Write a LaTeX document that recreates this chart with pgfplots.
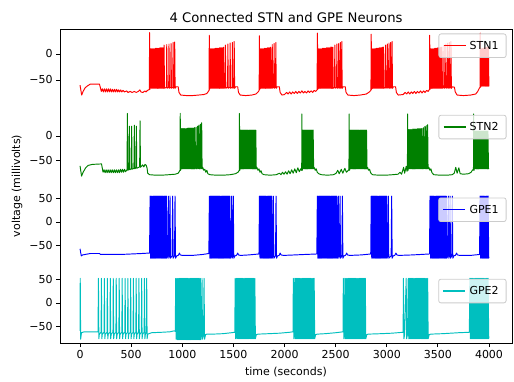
\documentclass[border=0pt]{standalone}
\usepackage{fontspec}
\setmainfont{DejaVu Sans}
\usepackage{pgfplots}
\pgfplotsset{compat=1.18}
\definecolor{mr}{HTML}{FF0000}
\definecolor{mg}{HTML}{008000}
\definecolor{mb}{HTML}{0000FF}
\definecolor{mc}{HTML}{00BFBF}
\pgfplotsset{
  panel/.style={
    scale only axis, width=452pt, xmin=-196, xmax=4225,
    axis line style={draw=none},
    tick align=outside, ytick pos=left, xtick pos=bottom,
    major tick length=3.9pt,
    tick style={draw=black, line width=0.9pt},
    tick label style={font=\fontsize{11}{13}\selectfont},
    xtick=\empty,
    legend cell align=left,
    legend style={at={(1,1)}, anchor=north east, xshift=-5.5pt, yshift=-4.5pt,
      draw=black!20, line width=0.8pt, fill=white, fill opacity=0.8, text opacity=1, draw opacity=1,
      rounded corners=2.2pt, inner xsep=4pt, inner ysep=4pt,
      nodes={inner xsep=3.5pt, inner ysep=3pt},
      font=\fontsize{11}{13}\selectfont},
    legend image code/.code={\draw[##1, line width=1.3pt, draw opacity=1] (0pt,0pt) -- (22pt,0pt);},
    every axis plot/.append style={line width=0.95pt, line join=round},
  }
}
\begin{document}
\begin{tikzpicture}
\path[use as bounding box] (0pt,0pt) rectangle (514pt,381pt);

% ---------------- STN1 ----------------
\begin{axis}[panel, at={(60pt,282.3pt)}, anchor=south west, height=69.7pt,
  ymin=-86, ymax=48, ytick={-50,0}, yticklabels={−50,0}]
\addplot[mr] coordinates {
(0,-60)(16,-79)(30,-72)(50,-65)(75,-61)(100,-58)(190,-58)(198,-64)(208,-72)(218,-67)(228,-73)(238,-67)(248,-73)(258,-67)(268,-73)(278,-67)(288,-73)(298,-67)(308,-73)(318,-68)(328,-73)(338,-68)(348,-73)(358,-68)(368,-73)(378,-69)(388,-73)(398,-69)(408,-73)(420,-70)(435,-73)(455,-71)(470,-74)(490,-72)(510,-74)(530,-72)(550,-74)(570,-72)(585,-69)(595,-73)(615,-74)(635,-71)(645,-73)(660,-70)(672,-69)(678,-68)
(680,41)(684,-68)(690,10)(695,-66)(700,10)(705,-66)(710,10)(715,-66)(720,10)(725,-66)(730,10)(735,-66)(740,11)(745,-66)(750,11)(755,-66)(760,11)(765,-66)(770,11)(775,-66)(780,12)(785,-66)(790,12)(795,-66)(800,12)(805,-66)(810,12)(815,-66)
(819,-64)(822,17)(826,-66)(845,-64)(848,18)(852,-66)(867,-64)(870,19)(874,-66)(887,-64)(890,20)(894,-66)(907,-64)(910,22)(914,-66)(923,-64)(926,23)(930,-66)
(940,-63)(960,-63)(968,-74)(985,-79)(1040,-80)(1100,-80)(1160,-79)(1210,-78)(1240,-76)(1255,-72)(1262,-70)
(1264,36)(1268,-68)(1274,10)(1279,-66)(1284,10)(1289,-66)(1294,10)(1299,-66)(1304,10)(1309,-66)(1314,10)(1319,-66)(1324,11)(1329,-66)(1334,11)(1339,-66)(1344,11)(1349,-66)(1354,11)(1359,-66)(1364,12)(1369,-66)(1374,12)(1379,-66)(1384,12)(1389,-66)(1394,12)(1399,-66)(1404,13)(1409,-66)
(1419,-64)(1422,17)(1426,-66)(1443,-64)(1446,19)(1450,-66)(1465,-64)(1468,21)(1472,-66)(1487,-64)(1490,22)(1494,-66)(1505,-64)(1508,24)(1512,-66)
(1522,-63)(1542,-63)(1550,-74)(1567,-79)(1620,-80)(1680,-79)(1720,-77)(1742,-73)(1752,-70)
(1754,35)(1758,-68)(1764,10)(1769,-66)(1774,10)(1779,-66)(1784,10)(1789,-66)(1794,10)(1799,-66)(1804,11)(1809,-66)(1814,11)(1819,-66)(1824,11)(1829,-66)(1834,12)(1839,-66)(1844,12)(1849,-66)(1854,12)(1859,-66)(1864,13)(1869,-66)
(1877,-64)(1880,18)(1884,-66)(1895,-64)(1898,20)(1902,-66)(1912,-64)(1915,22)(1919,-66)
(1929,-63)(1949,-63)(1957,-74)(1975,-79)(2000,-78)(2020,-74)(2035,-77)(2050,-73)(2065,-77)(2080,-73)(2095,-76)(2110,-72)(2125,-76)(2140,-72)(2155,-75)(2170,-71)(2185,-75)(2200,-72)(2215,-75)(2230,-71)(2245,-74)(2260,-71)(2275,-74)(2290,-70)(2305,-72)(2318,-69)
(2322,40)(2326,-68)(2332,10)(2337,-66)(2342,10)(2347,-66)(2352,10)(2357,-66)(2362,10)(2367,-66)(2372,11)(2377,-66)(2382,11)(2387,-66)(2392,11)(2397,-66)(2402,11)(2407,-66)(2412,12)(2417,-66)(2422,12)(2427,-66)(2432,12)(2437,-66)(2442,12)(2447,-66)(2452,13)(2457,-66)(2462,13)(2467,-66)(2472,13)(2477,-66)
(2489,-64)(2492,17)(2496,-66)(2509,-64)(2512,19)(2516,-66)(2527,-64)(2530,20)(2534,-66)(2543,-64)(2546,22)(2550,-66)(2557,-64)(2560,24)(2564,-66)
(2574,-63)(2594,-63)(2602,-74)(2620,-79)(2680,-80)(2740,-79)(2800,-77)(2830,-73)(2845,-70)
(2848,38)(2852,-68)(2858,10)(2863,-66)(2868,10)(2873,-66)(2878,10)(2883,-66)(2888,10)(2893,-66)(2898,11)(2903,-66)(2908,11)(2913,-66)(2918,11)(2923,-66)(2928,12)(2933,-66)(2938,12)(2943,-66)(2948,12)(2953,-66)(2958,13)(2963,-66)(2968,13)(2973,-66)
(2985,-64)(2988,17)(2992,-66)(3003,-64)(3006,19)(3010,-66)(3019,-64)(3022,21)(3026,-66)(3035,-64)(3038,22)(3042,-66)(3049,-64)(3052,24)(3056,-66)
(3066,-63)(3086,-63)(3094,-74)(3112,-79)(3160,-78)(3180,-74)(3195,-77)(3210,-73)(3225,-77)(3240,-73)(3255,-76)(3270,-72)(3285,-76)(3300,-72)(3315,-75)(3330,-71)(3345,-75)(3360,-71)(3375,-74)(3390,-70)(3405,-72)(3418,-68)
(3420,36)(3424,-68)(3430,10)(3435,-66)(3440,10)(3445,-66)(3450,10)(3455,-66)(3460,10)(3465,-66)(3470,11)(3475,-66)(3480,11)(3485,-66)(3490,11)(3495,-66)(3500,12)(3505,-66)(3510,12)(3515,-66)(3520,12)(3525,-66)(3530,13)(3535,-66)(3540,13)(3545,-66)
(3557,-64)(3560,17)(3564,-66)(3575,-64)(3578,19)(3582,-66)(3593,-64)(3596,21)(3600,-66)(3609,-64)(3612,22)(3616,-66)(3625,-64)(3628,24)(3632,-66)
(3642,-63)(3662,-64)(3670,-73)(3688,-79)(3750,-80)(3820,-79)(3870,-77)(3890,-72)(3905,-66)(3912,-64)
(3914,40)(3918,-64)(3924,10)(3929,-62)(3934,11)(3939,-62)(3944,11)(3949,-62)(3954,12)(3959,-62)(3964,12)(3969,-62)(3974,13)(3979,-62)(3984,13)(3989,-62)(3994,14)(3999,-62)(4000,-62)
};
\addlegendentry{STN1}
\end{axis}

% ---------------- STN2 ----------------
\begin{axis}[panel, at={(60pt,201.7pt)}, anchor=south west, height=69pt,
  ymin=-88.4, ymax=52.4, ytick={-50,0}, yticklabels={−50,0}]
\addplot[mg] coordinates {
(0,-61)(15,-82)(30,-74)(55,-65)(80,-60)(120,-58)(210,-57)(218,-66)(225,-74)(235,-69)(245,-75)(255,-69)(265,-75)(275,-69)(285,-75)(295,-69)(305,-75)(315,-69)(325,-75)(335,-69)(345,-75)(355,-69)(365,-75)(375,-69)(385,-75)(395,-68)(405,-74)(415,-68)(425,-74)(435,-68)(445,-73)(455,-70)
(460,-69)(463,46)(467,-70)(478,-68)(482,20)(486,-69)(501,-67)(505,20)(509,-68)(527,-66)(531,22)(535,-67)(547,-65)(551,20)(555,-66)(583,-63)(587,31)(591,-64)(600,-62)(612,-59)(624,-63)(636,-58)(648,-60)(656,-66)(662,-76)(680,-79)(740,-80)(800,-80)(870,-79)(930,-78)(960,-76)(972,-72)
(978,-70)(980,46)(984,-70)(990,15)(995,-67)(1000,15)(1005,-67)(1010,15)(1015,-67)(1020,15)(1025,-67)(1030,15)(1035,-67)(1040,15)(1045,-67)(1050,16)(1055,-67)(1060,16)(1065,-67)(1070,16)(1075,-67)(1080,16)(1085,-67)(1090,16)(1095,-67)(1100,16)(1105,-67)(1110,16)(1115,-67)(1120,17)(1125,-67)
(1132,-65)(1135,18)(1139,-67)(1147,-65)(1150,20)(1154,-67)(1160,-65)(1163,22)(1167,-67)(1174,-65)(1177,24)(1181,-67)(1187,-65)(1190,27)(1194,-67)
(1200,-64)(1210,-70)(1220,-68)(1230,-74)(1240,-70)(1250,-77)(1270,-79)(1330,-80)(1400,-80)(1470,-79)(1520,-77)(1545,-74)(1555,-71)
(1557,-70)(1559,46)(1563,-70)(1569,12)(1574,-67)(1579,12)(1584,-67)(1589,12)(1594,-67)(1599,12)(1604,-67)(1609,12)(1614,-67)(1619,12)(1624,-67)(1629,12)(1634,-67)(1639,12)(1644,-67)(1649,12)(1654,-67)(1659,12)(1664,-67)(1669,12)(1674,-67)(1679,12)(1684,-67)(1689,12)(1694,-67)(1699,12)(1704,-67)(1709,12)(1714,-67)(1719,12)(1724,-67)
(1730,-64)(1740,-70)(1750,-67)(1760,-74)(1770,-71)(1780,-77)(1800,-79)(1860,-80)(1920,-79)(1950,-76)(1965,-79)(1980,-74)(1995,-78)(2010,-73)(2025,-78)(2040,-71)(2055,-77)(2070,-69)(2085,-76)(2100,-67)(2115,-75)(2130,-65)(2145,-73)(2158,-67)(2166,-70)
(2168,-70)(2170,45)(2174,-70)(2180,12)(2185,-67)(2190,12)(2195,-67)(2200,12)(2205,-67)(2210,12)(2215,-67)(2220,12)(2225,-67)(2230,12)(2235,-67)(2240,12)(2245,-67)(2250,12)(2255,-67)(2260,12)(2265,-67)(2270,12)(2275,-67)(2280,12)(2285,-67)
(2290,-64)(2300,-70)(2310,-67)(2320,-74)(2335,-77)(2360,-79)(2420,-80)(2480,-79)(2505,-76)(2520,-70)(2535,-77)(2555,-68)(2570,-76)(2590,-66)(2605,-74)(2620,-71)(2628,-69)
(2630,-70)(2632,45)(2636,-70)(2642,12)(2647,-67)(2652,12)(2657,-67)(2662,12)(2667,-67)(2672,12)(2677,-67)(2682,12)(2687,-67)(2692,12)(2697,-67)(2702,12)(2707,-67)(2712,12)(2717,-67)(2722,12)(2727,-67)(2732,12)(2737,-67)(2742,12)(2747,-67)(2752,12)(2757,-67)(2762,12)(2767,-67)(2772,12)(2777,-67)(2782,12)(2787,-67)(2792,12)(2797,-67)(2802,12)(2807,-67)
(2812,-64)(2822,-70)(2832,-68)(2842,-75)(2860,-79)(2920,-80)(2990,-80)(3060,-79)(3110,-78)(3130,-74)(3145,-78)(3165,-64)(3175,-76)(3190,-62)(3198,-72)(3202,-70)
(3204,45)(3208,-70)(3214,13)(3219,-67)(3224,13)(3229,-67)(3234,13)(3239,-67)(3244,13)(3249,-67)(3254,14)(3259,-67)(3264,14)(3269,-67)(3274,14)(3279,-67)(3284,14)(3289,-67)(3294,14)(3299,-67)(3304,15)(3309,-67)(3314,15)(3319,-67)(3324,15)(3329,-67)(3334,15)(3339,-67)(3344,15)(3349,-67)
(3355,-65)(3358,17)(3362,-67)(3369,-65)(3372,19)(3376,-67)(3383,-65)(3386,21)(3390,-67)(3397,-65)(3400,23)(3404,-67)
(3412,-64)(3422,-70)(3432,-67)(3442,-75)(3460,-79)(3520,-80)(3590,-80)(3640,-79)(3660,-76)(3675,-64)(3688,-76)(3705,-65)(3718,-77)(3750,-78)(3800,-77)(3825,-74)(3840,-69)(3848,-70)
(3850,45)(3854,-70)(3860,10)(3865,-67)(3870,10)(3875,-67)(3880,10)(3885,-67)(3890,10)(3895,-67)(3900,10)(3905,-67)(3910,10)(3915,-67)(3920,10)(3925,-67)(3930,10)(3935,-67)(3940,10)(3945,-67)(3950,10)(3955,-67)(3960,10)(3965,-67)(3970,10)(3975,-67)(3980,10)(3985,-67)(3990,10)(3995,-67)(4000,-66)
};
\addlegendentry{STN2}
\end{axis}

% ---------------- GPE1 ----------------
\begin{axis}[panel, at={(60pt,119.2pt)}, anchor=south west, height=68.8pt,
  ymin=-84.6, ymax=61.6, ytick={-50,0,50}, yticklabels={−50,0,50}]
\addplot[mb] coordinates {
(0,-57)(12,-72)(25,-70)(50,-69)(100,-67)(190,-67)(200,-69)(300,-69)(400,-69)(500,-68)(600,-67)(680,-66)
(685,55)(690,-77)(695,55)(700,-77)(705,55)(710,-77)(715,55)(720,-77)(725,55)(730,-77)(735,55)(740,-77)(745,55)(750,-77)(755,55)(760,-77)(765,55)(770,-77)(775,55)(780,-77)(785,55)(790,-77)(795,55)(800,-77)(805,55)(810,-77)(815,55)(820,-77)(825,55)(830,-77)(835,55)(840,-77)(845,55)(850,-77)
(858,-72)(864,55)(869,-77)(875,-72)(880,55)(885,-77)(900,-72)(906,55)(911,-77)(924,-72)(929,55)(934,-77)
(945,-72)(960,-71)(972,-66)(980,-70)(1000,-71)(1100,-71)(1200,-69)(1260,-67)
(1265,55)(1270,-77)(1275,55)(1280,-77)(1285,55)(1290,-77)(1295,55)(1300,-77)(1305,55)(1310,-77)(1315,55)(1320,-77)(1325,55)(1330,-77)(1335,55)(1340,-77)(1345,55)(1350,-77)(1355,55)(1360,-77)(1365,55)(1370,-77)(1375,55)(1380,-77)(1385,55)(1390,-77)(1395,55)(1400,-77)(1405,55)(1410,-77)(1415,55)(1420,-77)(1425,55)(1430,-77)(1435,55)(1440,-77)(1445,55)(1450,-77)(1455,55)(1460,-77)(1465,55)(1470,-77)
(1478,-72)(1483,55)(1488,-77)(1494,-72)(1499,55)(1504,-77)
(1515,-72)(1530,-71)(1542,-66)(1550,-70)(1570,-71)(1650,-70)(1750,-68)
(1755,55)(1760,-77)(1765,55)(1770,-77)(1775,55)(1780,-77)(1785,55)(1790,-77)(1795,55)(1800,-77)(1805,55)(1810,-77)(1815,55)(1820,-77)(1825,55)(1830,-77)(1835,55)(1840,-77)(1845,55)(1850,-77)(1855,55)(1860,-77)(1865,55)(1870,-77)(1875,55)(1880,-77)
(1886,-72)(1891,55)(1896,-77)(1912,-72)(1917,55)(1922,-77)
(1932,-72)(1947,-71)(1958,-66)(1966,-70)(1990,-71)(2100,-70)(2200,-69)(2316,-68)
(2321,55)(2326,-77)(2331,55)(2336,-77)(2341,55)(2346,-77)(2351,55)(2356,-77)(2361,55)(2366,-77)(2371,55)(2376,-77)(2381,55)(2386,-77)(2391,55)(2396,-77)(2401,55)(2406,-77)(2411,55)(2416,-77)(2421,55)(2426,-77)(2431,55)(2436,-77)(2441,55)(2446,-77)(2451,55)(2456,-77)(2461,55)(2466,-77)(2471,55)(2476,-77)(2481,55)(2486,-77)(2491,55)(2496,-77)(2501,55)(2506,-77)(2511,55)(2516,-77)
(2521,-72)(2526,55)(2531,-77)(2538,-72)(2543,55)(2548,-77)(2561,-72)(2566,55)(2571,-77)
(2581,-72)(2596,-71)(2608,-66)(2616,-70)(2640,-71)(2750,-70)(2843,-68)
(2848,55)(2853,-77)(2858,55)(2863,-77)(2868,55)(2873,-77)(2878,55)(2883,-77)(2888,55)(2893,-77)(2898,55)(2903,-77)(2908,55)(2913,-77)(2918,55)(2923,-77)(2928,55)(2933,-77)(2938,55)(2943,-77)(2948,55)(2953,-77)(2958,55)(2963,-77)(2968,55)(2973,-77)(2978,55)(2983,-77)(2988,55)(2993,-77)(2998,55)(3003,-77)
(3010,-72)(3015,55)(3020,-77)(3043,-72)(3048,55)(3053,-77)
(3063,-72)(3078,-71)(3090,-66)(3098,-70)(3120,-71)(3250,-70)(3418,-68)
(3423,55)(3428,-77)(3433,55)(3438,-77)(3443,55)(3448,-77)(3453,55)(3458,-77)(3463,55)(3468,-77)(3473,55)(3478,-77)(3483,55)(3488,-77)(3493,55)(3498,-77)(3503,55)(3508,-77)(3513,55)(3518,-77)(3523,55)(3528,-77)(3533,55)(3538,-77)(3543,55)(3548,-77)(3553,55)(3558,-77)(3563,55)(3568,-77)(3573,55)(3578,-77)(3583,55)(3588,-77)
(3597,-72)(3602,55)(3607,-77)(3614,-72)(3619,55)(3624,-77)(3636,-72)(3641,55)(3646,-77)
(3656,-72)(3671,-71)(3683,-66)(3691,-70)(3715,-71)(3820,-71)(3908,-69)
(3912,55)(3917,-77)(3922,55)(3927,-77)(3932,55)(3937,-77)(3942,55)(3947,-77)(3952,55)(3957,-77)(3962,55)(3967,-77)(3972,55)(3977,-77)(3982,55)(3987,-77)(3992,55)(3997,-77)(4000,-74)
};
\addlegendentry{GPE1}
\end{axis}

% ---------------- GPE2 ----------------
\begin{axis}[panel, at={(60pt,37.7pt)}, anchor=south west, height=69pt,
  ymin=-86.75, ymax=61.75, ytick={-50,0,50}, yticklabels={−50,0,50},
  xtick={0,500,1000,1500,2000,2500,3000,3500,4000},
  xticklabels={0,500,1000,1500,2000,2500,3000,3500,4000}]
\addplot[mc] coordinates {
(0,-60)(2,53)(6,-78)(14,-64)(40,-62)(100,-62)(176,-62)
(180,53)(184,-77)(189,-67)(206,-63)(209,53)(213,-77)(218,-67)(235,-63)(238,53)(242,-77)(247,-67)(264,-63)(267,53)(271,-77)(276,-67)(293,-63)(296,53)(300,-77)(305,-67)(322,-63)(325,53)(329,-77)(334,-67)(351,-63)(354,53)(358,-77)(363,-67)(380,-63)(383,53)(387,-77)(392,-67)(409,-63)(412,53)(416,-77)(421,-67)(438,-63)(441,53)(445,-77)(450,-67)(465,-63)(468,53)(472,-77)(477,-67)(492,-63)(495,53)(499,-77)(504,-67)(519,-63)(522,53)(526,-77)(531,-67)(546,-63)(549,53)(553,-77)(558,-67)(573,-63)(576,53)(580,-77)(585,-67)(600,-63)(603,53)(607,-77)(612,-67)(627,-63)(630,53)(634,-77)(639,-67)(649,-63)(652,53)(656,-77)(662,-67)(700,-64)
(800,-63)(880,-62)(920,-60)(932,-61)
(935,53)(940,-78)(944,-70)(947,53)(952,-79)(957,53)(962,-79)(967,53)(972,-79)(977,53)(982,-79)(987,53)(992,-79)(997,53)(1002,-79)(1007,53)(1012,-79)(1017,53)(1022,-79)(1027,53)(1032,-79)(1037,53)(1042,-79)(1047,53)(1052,-79)(1057,53)(1062,-79)(1067,53)(1072,-79)(1077,53)(1082,-79)(1087,53)(1092,-79)(1097,53)(1102,-79)(1107,53)(1112,-79)(1117,53)(1122,-79)(1127,53)(1132,-79)(1137,53)(1142,-79)(1147,53)(1152,-79)(1157,53)(1162,-79)(1167,53)(1172,-79)(1177,53)(1182,-79)
(1188,-70)(1193,53)(1198,-78)(1208,-70)(1213,53)(1218,-78)(1228,-68)(1240,-67)(1300,-67)(1400,-66)(1480,-64)(1514,-63)
(1517,53)(1522,-77)(1527,-68)(1530,53)(1535,-77)(1540,53)(1545,-77)(1550,53)(1555,-77)(1560,53)(1565,-77)(1570,53)(1575,-77)(1580,53)(1585,-77)(1590,53)(1595,-77)(1600,53)(1605,-77)(1610,53)(1615,-77)(1620,53)(1625,-77)(1630,53)(1635,-77)(1640,53)(1645,-77)(1650,53)(1655,-77)(1660,53)(1665,-77)(1670,53)(1675,-77)(1680,53)(1685,-77)(1690,53)(1695,-77)(1700,53)(1705,-77)(1710,53)(1715,-77)
(1725,-68)(1740,-67)(1850,-66)(1950,-65)(2050,-63)(2083,-62)
(2086,53)(2091,-77)(2097,-67)(2100,53)(2105,-77)(2110,53)(2115,-77)(2120,53)(2125,-77)(2130,53)(2135,-77)(2140,53)(2145,-77)(2150,53)(2155,-77)(2160,53)(2165,-77)(2170,53)(2175,-77)(2180,53)(2185,-77)(2190,53)(2195,-77)(2200,53)(2205,-77)(2210,53)(2215,-77)(2220,53)(2225,-77)(2230,53)(2235,-77)(2240,53)(2245,-77)(2250,53)(2255,-77)(2260,53)(2265,-77)(2270,53)(2275,-77)(2280,53)(2285,-77)(2290,53)(2295,-77)
(2305,-68)(2320,-67)(2400,-66)(2500,-64)(2572,-62)
(2575,53)(2580,-77)(2586,-67)(2590,53)(2595,-77)(2600,53)(2605,-77)(2610,53)(2615,-77)(2620,53)(2625,-77)(2630,53)(2635,-77)(2640,53)(2645,-77)(2650,53)(2655,-77)(2660,53)(2665,-77)(2670,53)(2675,-77)(2680,53)(2685,-77)(2690,53)(2695,-77)(2700,53)(2705,-77)(2710,53)(2715,-77)(2720,53)(2725,-77)(2730,53)(2735,-77)(2740,53)(2745,-77)(2750,53)(2755,-77)(2760,53)(2765,-77)(2770,53)(2775,-77)(2780,53)(2785,-77)(2790,53)(2795,-77)
(2805,-68)(2820,-67)(2950,-66)(3050,-65)(3160,-63)
(3163,53)(3168,-77)(3175,-67)(3190,53)(3195,-77)(3203,-67)(3210,53)(3215,-77)(3220,53)(3225,-77)(3230,53)(3235,-77)(3240,53)(3245,-77)(3250,53)(3255,-77)(3260,53)(3265,-77)(3270,53)(3275,-77)(3280,53)(3285,-77)(3290,53)(3295,-77)(3300,53)(3305,-77)(3310,53)(3315,-77)(3320,53)(3325,-77)(3330,53)(3335,-77)(3340,53)(3345,-77)(3350,53)(3355,-77)(3360,53)(3365,-77)(3370,53)(3375,-77)(3380,53)(3385,-77)(3390,53)(3395,-77)(3400,53)(3405,-77)
(3415,-68)(3430,-67)(3550,-66)(3700,-64)(3808,-63)
(3812,53)(3817,-77)(3822,53)(3827,-77)(3832,53)(3837,-77)(3842,53)(3847,-77)(3852,53)(3857,-77)(3862,53)(3867,-77)(3872,53)(3877,-77)(3882,53)(3887,-77)(3892,53)(3897,-77)(3902,53)(3907,-77)(3912,53)(3917,-77)(3922,53)(3927,-77)(3932,53)(3937,-77)(3942,53)(3947,-77)(3952,53)(3957,-77)(3962,53)(3967,-77)(3972,53)(3977,-77)(3982,53)(3987,-77)(3992,53)(3997,-77)(4000,-72)
};
\addlegendentry{GPE2}
\end{axis}

\draw[black, line width=0.9pt] (60pt,37.7pt) rectangle (512pt,352pt);
\node[font=\fontsize{13.2}{16}\selectfont] at (286pt,363pt) {4 Connected STN and GPE Neurons};
\node[font=\fontsize{11}{13}\selectfont] at (286pt,9pt) {time (seconds)};
\node[font=\fontsize{11}{13}\selectfont, rotate=90] at (17pt,195pt) {voltage (millivolts)};
\end{tikzpicture}
\end{document}
